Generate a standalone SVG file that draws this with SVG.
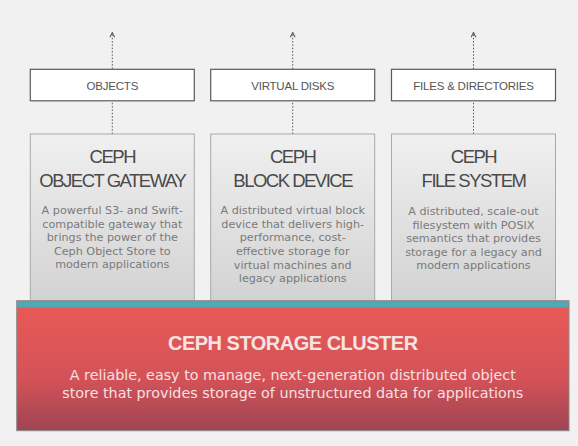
<svg xmlns="http://www.w3.org/2000/svg" width="578" height="446" viewBox="0 0 578 446">
<style>
.lbl{fill:#fff;stroke:#5a5a5a;stroke-width:1.2}
.lbltxt{font-family:"Liberation Sans",Arial,sans-serif;font-size:11.5px;fill:#555;text-anchor:middle;letter-spacing:-0.2px}
.card{fill:url(#gGray);stroke:#a9a9a9;stroke-width:1}
.ttl{font-family:"Liberation Sans",Arial,sans-serif;font-size:18.5px;fill:#4a4a4a;text-anchor:middle;letter-spacing:-1.5px}
.body{font-family:"DejaVu Sans",sans-serif;font-size:11.2px;fill:#7a7a7a;text-anchor:middle}
.conn{stroke:#555;stroke-width:1;stroke-dasharray:1.5 1.8;fill:none}
.ctitle{font-family:"Liberation Sans",Arial,sans-serif;font-size:20px;font-weight:bold;fill:#f6e4e4;text-anchor:middle;letter-spacing:-0.5px}
.cbody{font-family:"DejaVu Sans",sans-serif;font-size:14.3px;fill:#f6e0e0;text-anchor:middle}
</style>
<defs>
<linearGradient id="gGray" x1="0" y1="0" x2="0" y2="1">
<stop offset="0" stop-color="#f0f0f0"/>
<stop offset="1" stop-color="#d2d2d2"/>
</linearGradient>
<linearGradient id="gRed" x1="0" y1="0" x2="0" y2="1">
<stop offset="0" stop-color="#e95a55"/>
<stop offset="0.6" stop-color="#d45258"/>
<stop offset="1" stop-color="#9f4453"/>
</linearGradient>
<marker id="ah" viewBox="0 0 10 10" refX="9" refY="5" markerWidth="6" markerHeight="6" orient="auto" markerUnits="userSpaceOnUse">
<path d="M1,1 L9,5 L1,9" fill="none" stroke="#555" stroke-width="1.7"/>
</marker>
</defs>
<rect x="0" y="0" width="578" height="446" fill="#f1f1f1"/>

<g id="connectors">
<line class="conn" x1="112.3" y1="134" x2="112.3" y2="101"/>
<line class="conn" x1="112.3" y1="69" x2="112.3" y2="32.5" marker-end="url(#ah)"/>
<line class="conn" x1="292.7" y1="134" x2="292.7" y2="101"/>
<line class="conn" x1="292.7" y1="69" x2="292.7" y2="32.5" marker-end="url(#ah)"/>
<line class="conn" x1="473.5" y1="134" x2="473.5" y2="101"/>
<line class="conn" x1="473.5" y1="69" x2="473.5" y2="32.5" marker-end="url(#ah)"/>
</g>

<g id="label-objects">
<rect class="lbl" x="30.3" y="69.3" width="164" height="31.5"/>
<text class="lbltxt" x="112.3" y="89.5">OBJECTS</text>
</g>
<g id="label-virtual-disks">
<rect class="lbl" x="210.7" y="69.3" width="164" height="31.5"/>
<text class="lbltxt" x="292.7" y="89.5">VIRTUAL DISKS</text>
</g>
<g id="label-files">
<rect class="lbl" x="391.5" y="69.3" width="164" height="31.5"/>
<text class="lbltxt" x="473.5" y="89.5">FILES &amp; DIRECTORIES</text>
</g>

<g id="object-gateway">
<rect class="card" x="30.3" y="134" width="164" height="170"/>
<text class="ttl" x="112.3" y="163">CEPH</text>
<text class="ttl" x="112.3" y="186.5">OBJECT GATEWAY</text>
<text class="body" x="112.3" y="214.2">A powerful S3- and Swift-</text>
<text class="body" x="112.3" y="227.7">compatible gateway that</text>
<text class="body" x="112.3" y="241.2">brings the power of the</text>
<text class="body" x="112.3" y="254.7">Ceph Object Store to</text>
<text class="body" x="112.3" y="268.2">modern applications</text>
</g>
<g id="block-device">
<rect class="card" x="210.7" y="134" width="164" height="170"/>
<text class="ttl" x="292.7" y="163">CEPH</text>
<text class="ttl" x="292.7" y="186.5">BLOCK DEVICE</text>
<text class="body" x="292.7" y="214.2">A distributed virtual block</text>
<text class="body" x="292.7" y="227.8">device that delivers high-</text>
<text class="body" x="292.7" y="241.4">performance, cost-</text>
<text class="body" x="292.7" y="255">effective storage for</text>
<text class="body" x="292.7" y="268.6">virtual machines and</text>
<text class="body" x="292.7" y="282.2">legacy applications</text>
</g>
<g id="file-system">
<rect class="card" x="391.5" y="134" width="164" height="170"/>
<text class="ttl" x="473.5" y="163">CEPH</text>
<text class="ttl" x="473.5" y="186.5">FILE SYSTEM</text>
<text class="body" x="473.5" y="215.2">A distributed, scale-out</text>
<text class="body" x="473.5" y="228.7">filesystem with POSIX</text>
<text class="body" x="473.5" y="242.2">semantics that provides</text>
<text class="body" x="473.5" y="255.7">storage for a legacy and</text>
<text class="body" x="473.5" y="269.2">modern applications</text>
</g>

<g id="storage-cluster">
<rect x="16.7" y="300.7" width="552.3" height="130" fill="url(#gRed)" stroke="#8a8a8a" stroke-width="1"/>
<rect x="17.2" y="301.2" width="551.3" height="6.3" fill="#4fa9b6"/>
<text class="ctitle" x="292.8" y="350">CEPH STORAGE CLUSTER</text>
<text class="cbody" x="292.8" y="380">A reliable, easy to manage, next-generation distributed object</text>
<text class="cbody" x="292.8" y="397.6">store that provides storage of unstructured data for applications</text>
</g>
</svg>
